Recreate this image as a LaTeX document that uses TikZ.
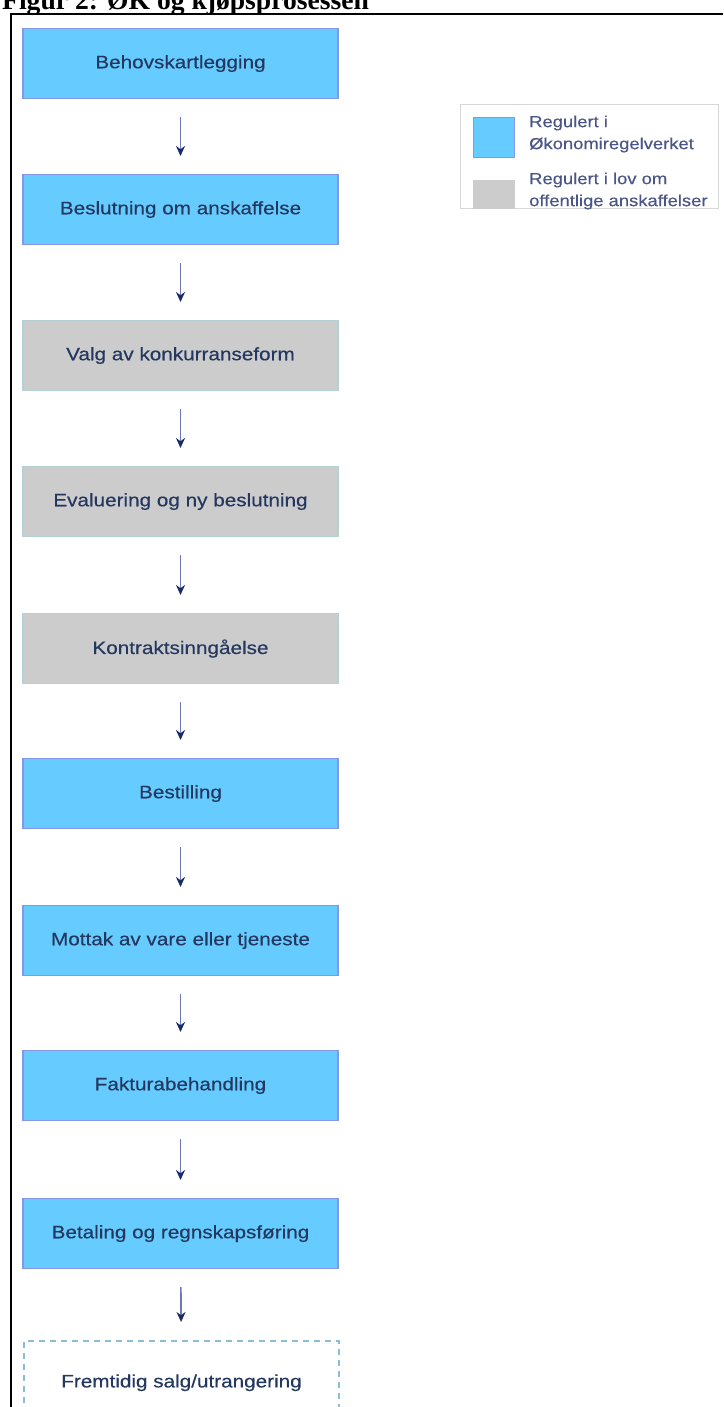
\documentclass[tikz,border=0pt]{standalone}
\usepackage{fontspec}
\setmainfont{Liberation Sans}
\newfontfamily\boxfont[FakeStretch=1.15,FakeBold=0.35]{Liberation Sans}
\newfontfamily\titlefont{Liberation Serif}
\usetikzlibrary{arrows.meta}
\definecolor{boxblue}{RGB}{102,204,255}
\definecolor{blueedge}{RGB}{135,150,235}
\definecolor{boxgray}{RGB}{204,204,204}
\definecolor{grayedge}{RGB}{180,210,212}
\definecolor{navytext}{RGB}{35,55,95}
\definecolor{legtext}{RGB}{75,85,135}
\definecolor{arrowshaft}{RGB}{110,120,185}
\definecolor{arrowhead}{RGB}{25,45,100}
\definecolor{dashcol}{RGB}{140,190,210}
\definecolor{legframe}{RGB}{215,215,215}
\begin{document}
\begin{tikzpicture}[x=1pt,y=-1pt,
  stepbox/.style={minimum width=315pt, minimum height=70pt, inner sep=0pt, anchor=north,
    font=\boxfont\fontsize{18}{22}\selectfont, text=navytext, line width=1.2pt},
  bluebox/.style={stepbox, fill=boxblue, draw=blueedge},
  graybox/.style={stepbox, fill=boxgray, draw=grayedge},
  futurebox/.style={stepbox, draw=dashcol, line width=1.5pt, dash pattern=on 6pt off 5pt, minimum height=84pt},
  flow/.style={draw=arrowshaft, line width=1.7pt, -{Stealth[length=10pt,width=9pt,color=arrowhead]},
    shorten <=18pt, shorten >=18pt},
  swatch/.style={minimum width=41pt, minimum height=40pt, inner sep=0pt, anchor=north west, line width=1pt},
  legendtext/.style={anchor=west, align=left, inner sep=0pt, text=legtext,
    font=\boxfont\fontsize{16}{22}\selectfont}
]
\clip (0,0) rectangle (723,1407);
\fill[white] (0,0) rectangle (723,1407);

% title
\node[anchor=base west, inner sep=0pt, font=\titlefont\bfseries\fontsize{27.6}{30}\selectfont] (title) at (2,10) {Figur 2: ØK og kjøpsprosessen};

% frame (top and left edges)
\coordinate (frameR) at (723,14);
\coordinate (frameC) at (11,14);
\coordinate (frameB) at (11,1407);
\draw[line width=2.5pt] (frameR) -- (frameC) -- (frameB);

% process boxes
\node[bluebox] (b1) at (180.5,28) {Behovskartlegging};
\node[bluebox] (b2) at (180.5,174) {Beslutning om anskaffelse};
\node[graybox] (b3) at (180.5,320) {Valg av konkurranseform};
\node[graybox] (b4) at (180.5,466) {Evaluering og ny beslutning};
\node[graybox] (b5) at (180.5,613) {Kontraktsinngåelse};
\node[bluebox] (b6) at (180.5,758) {Bestilling};
\node[bluebox] (b7) at (180.5,905) {Mottak av vare eller tjeneste};
\node[bluebox] (b8) at (180.5,1050) {Fakturabehandling};
\node[bluebox] (b9) at (180.5,1198) {Betaling og regnskapsføring};
\node[futurebox] (b10) at (181.5,1340) {Fremtidig salg/utrangering};

% connectors
\draw[flow] (b1) -- (b2);
\draw[flow] (b2) -- (b3);
\draw[flow] (b3) -- (b4);
\draw[flow] (b4) -- (b5);
\draw[flow] (b5) -- (b6);
\draw[flow] (b6) -- (b7);
\draw[flow] (b7) -- (b8);
\draw[flow] (b8) -- (b9);
\draw[flow] (b9) -- (b10);

% legend
\node[draw=legframe, line width=1pt, minimum width=258pt, minimum height=104pt, inner sep=0pt, anchor=north west] (legend) at (460,104) {};
\node[swatch, fill=boxblue, draw=blueedge] (swb) at (473,117) {};
\node[swatch, fill=boxgray, draw=boxgray, minimum height=27pt] (swg) at (473,180.5) {};
\node[legendtext] (lt1) at (529,134) {Regulert i\\Økonomiregelverket};
\node[legendtext] (lt2) at (529,191) {Regulert i lov om\\offentlige anskaffelser};
\end{tikzpicture}
\end{document}
